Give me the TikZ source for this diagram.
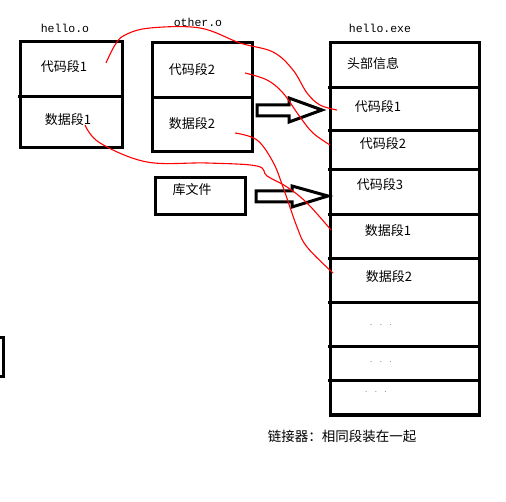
\documentclass[tikz,border=0pt]{standalone}
\usepackage{fontspec}
\newfontfamily\cjk{Noto Sans CJK SC}
\newfontfamily\mono{Liberation Mono}
\begin{document}
\begin{tikzpicture}[x=1pt,y=-1pt,
  box/.style={draw=black,line width=3pt,inner sep=0pt},
  txt/.style={font=\cjk\fontsize{13}{15}\selectfont,inner sep=0pt},
  lbl/.style={font=\mono\fontsize{11.5}{13}\selectfont,inner sep=0pt},
  dots/.style={font=\mono\fontsize{7}{8}\selectfont,text={rgb,255:red,110;green,130;blue,150},inner sep=0pt},
  link/.style={draw=red,line width=1.1pt,smooth,tension=0.6},
  barrow/.style={draw=black,line width=3pt,line join=miter,fill=white}]
\useasboundingbox (0,0) rectangle (506,502);
% left edge fragment
\draw[line width=3pt] (-2,338) -- (3,338) -- (3,377) -- (-2,377);
% hello.o
\node[lbl] (lh) at (65,28) {hello.o};
\draw[box] (20,42) rectangle (122,148);
\draw[line width=3pt] (18,97) -- (122,97);
\node[txt] (h1) at (64,67) {代码段1};
\node[txt] (h2) at (68,120) {数据段1};
% other.o
\node[lbl] (lo) at (198,22) {other.o};
\draw[box] (152,43) rectangle (252,152);
\draw[line width=3pt] (152,98) -- (254,98);
\node[txt] (o1) at (192,70) {代码段2};
\node[txt] (o2) at (192,124) {数据段2};
% library
\draw[box] (155,178) rectangle (245,215);
\node[txt] (lib) at (192,190) {库文件};
% hello.exe
\node[lbl] (le) at (380,28) {hello.exe};
\draw[box] (330,43) rectangle (479,415);
\foreach \yy in {88,131,170,215,259,303,347,381}{\draw[line width=3pt] (328,\yy) -- (481,\yy);}
\node[txt] (e0) at (373,64) {头部信息};
\node[txt] (e1) at (378,107) {代码段1};
\node[txt] (e2) at (383,144) {代码段2};
\node[txt] (e3) at (380,185) {代码段3};
\node[txt] (e4) at (388,231) {数据段1};
\node[txt] (e5) at (389,277) {数据段2};
\node[dots] (d1) at (381,325) {. . .};
\node[dots] (d2) at (381,362) {. . .};
\node[dots] (d3) at (376,392) {. . .};
\node[txt,font=\cjk\fontsize{13.5}{15}\selectfont] (cap) at (342,436) {链接器：相同段装在一起};
% block arrows
\draw[barrow] (257,105) -- (289,105) -- (289,98) -- (322,110) -- (289,122) -- (289,116) -- (257,116) -- cycle;
\draw[barrow] (256,191) -- (292,191) -- (292,186) -- (328,196) -- (292,207) -- (292,202) -- (256,202) -- cycle;
% red links
\coordinate (a0) at (106,63); \coordinate (a1) at (337,110);
\draw[link] plot coordinates {(a0) (115,45) (125,35) (150,28) (200,28) (240,43) (273,52) (293,70) (307,93) (320,105) (a1)};
\coordinate (b0) at (245,73); \coordinate (b1) at (330,145);
\draw[link] plot coordinates {(b0) (267,80) (283,93) (300,117) (313,133) (b1)};
\coordinate (c0) at (85,125); \coordinate (c1) at (331,230);
\draw[link] plot coordinates {(c0) (100,143) (147,162) (207,163) (257,166) (267,176) (287,187) (307,203) (c1)};
\coordinate (g0) at (235,133); \coordinate (g1) at (333,273);
\draw[link] plot coordinates {(g0) (257,140) (273,162) (283,187) (297,227) (307,247) (g1)};
\end{tikzpicture}
\end{document}
